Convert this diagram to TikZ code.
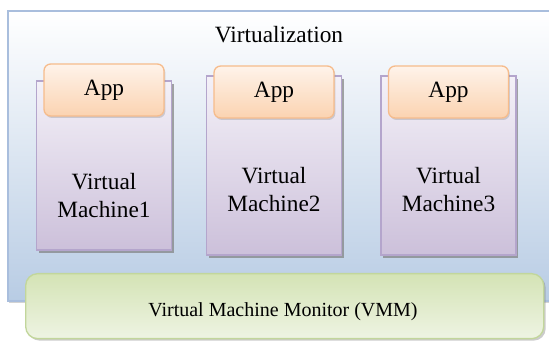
\documentclass[tikz,border=0pt]{standalone}
\usepackage{fontspec}
\setmainfont{Liberation Serif}
\usetikzlibrary{shadows}

\definecolor{outerline}{HTML}{A9BEDD}
\definecolor{outerbot}{HTML}{B8CCE4}
\definecolor{vmline}{HTML}{B4A5CC}
\definecolor{vmtop}{HTML}{F4F1F8}
\definecolor{vmbot}{HTML}{CCC0DA}
\definecolor{appline}{HTML}{F6BC8C}
\definecolor{apptop}{HTML}{FEF3EA}
\definecolor{appbot}{HTML}{FBD3B1}
\definecolor{vmmline}{HTML}{C2D69B}
\definecolor{vmmtop}{HTML}{D4E3B5}
\definecolor{vmmbot}{HTML}{EEF4E3}

\tikzset{
  hostbox/.style={draw=outerline, line width=1.4pt, top color=white, bottom color=outerbot,
    drop shadow={shadow xshift=1pt, shadow yshift=-1.5pt, opacity=0.35}},
  vmbox/.style={draw=vmline, line width=1.2pt, top color=vmtop, bottom color=vmbot,
    drop shadow={shadow xshift=1.5pt, shadow yshift=-2pt, opacity=0.7}},
  appbox/.style={draw=appline, line width=1pt, rounded corners=5pt, top color=apptop, bottom color=appbot,
    drop shadow={shadow xshift=1pt, shadow yshift=-1.5pt, opacity=0.3}},
  vmmbox/.style={draw=vmmline, line width=1pt, rounded corners=9pt, top color=vmmtop, bottom color=vmmbot,
    drop shadow={shadow xshift=1.5pt, shadow yshift=-1.5pt, opacity=0.4}},
  lbl/.style={font=\fontsize{17.5}{21}\selectfont, align=center}
}

\begin{document}
\begin{tikzpicture}[x=0.75pt, y=-0.75pt]
\useasboundingbox (0,0) rectangle (549,341);

% host box, runs off the right edge
\node[hostbox, minimum width=550*0.75pt, minimum height=290*0.75pt, anchor=north west] (host) at (7,10) {};
\node[lbl] (virt) at (279,35) {Virtualization};

% virtual machines with their apps
\foreach \n/\x/\y/\h/\a/\t in {1/104/165.5/169/90/196, 2/274/165.5/179/92/190, 3/448.5/165.5/179/92/190}{
  \node[vmbox, minimum width=135*0.75pt, minimum height=\h*0.75pt] (vm\n) at (\x,\y) {};
  \node[appbox, minimum width=120*0.75pt, minimum height=52*0.75pt] (app\n) at (\x,\a) {};
  \node[lbl] (apptxt\n) at (app\n) {App};
  \node[lbl] (vmtxt\n) at (\x,\t) {Virtual\\Machine\n};
}

% monitor
\node[vmmbox, minimum width=518*0.75pt, minimum height=65*0.75pt, anchor=north west] (vmm) at (25,273) {};
\node[font=\fontsize{15}{17}\selectfont] (vmmtxt) at (283,312) {Virtual Machine Monitor (VMM)};
\end{tikzpicture}
\end{document}
